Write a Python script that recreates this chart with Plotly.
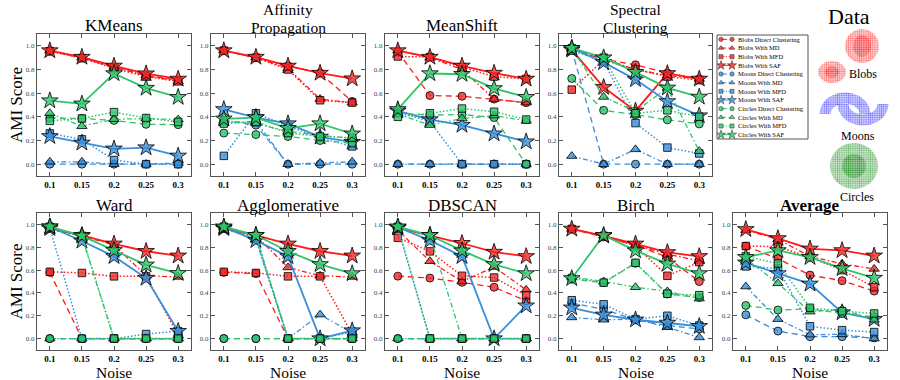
import numpy as np
import plotly.graph_objects as go

# ---------------- data ----------------
noise = [0.1, 0.15, 0.2, 0.25, 0.3]
noise_labels = ["0.1", "0.15", "0.2", "0.25", "0.3"]
datasets = ["Blobs", "Moons", "Circles"]
methods = ["Direct Clustering", "With MD", "With MFD", "With SAF"]
series_names = [f"{d} {m}" for d in datasets for m in methods]

# order in every table: Blobs DC, MD, MFD, SAF, Moons DC, MD, MFD, SAF, Circles DC, MD, MFD, SAF
kmeans = [
    [0.955, 0.90, 0.82, 0.75, 0.71], [0.96, 0.90, 0.82, 0.75, 0.70], [0.955, 0.895, 0.81, 0.74, 0.70], [0.96, 0.905, 0.83, 0.765, 0.72],
    [0.00, 0.00, 0.00, 0.00, 0.00], [0.02, 0.02, 0.00, 0.00, 0.01], [0.26, 0.21, 0.035, 0.00, 0.00], [0.235, 0.18, 0.13, 0.14, 0.07],
    [0.39, 0.386, 0.37, 0.337, 0.334], [0.43, 0.32, 0.38, 0.385, 0.377], [0.366, 0.386, 0.44, 0.39, 0.357], [0.537, 0.51, 0.766, 0.643, 0.566],
]
affinity = [
    [0.96, 0.90, 0.83, 0.77, 0.53], [0.96, 0.90, 0.81, 0.55, 0.52], [0.96, 0.90, 0.80, 0.54, 0.52], [0.96, 0.905, 0.83, 0.77, 0.723],
    [0.37, 0.33, 0.00, 0.00, 0.00], [0.35, 0.36, 0.00, 0.01, 0.02], [0.07, 0.43, 0.32, 0.223, 0.15], [0.463, 0.394, 0.343, 0.23, 0.186],
    [0.263, 0.25, 0.234, 0.20, 0.177], [0.366, 0.343, 0.277, 0.243, 0.22], [0.343, 0.357, 0.263, 0.234, 0.223], [0.383, 0.394, 0.303, 0.343, 0.257],
]
meanshift = [
    [0.95, 0.58, 0.574, 0.55, 0.52], [0.96, 0.90, 0.80, 0.55, 0.52], [0.91, 0.905, 0.82, 0.74, 0.72], [0.96, 0.905, 0.83, 0.77, 0.72],
    [0.00, 0.00, 0.00, 0.00, 0.00], [0.00, 0.00, 0.00, 0.00, 0.00], [0.44, 0.36, 0.00, 0.00, 0.00], [0.45, 0.377, 0.33, 0.257, 0.19],
    [0.43, 0.414, 0.42, 0.394, 0.00], [0.423, 0.33, 0.386, 0.41, 0.366], [0.40, 0.43, 0.47, 0.443, 0.377], [0.463, 0.766, 0.76, 0.64, 0.566],
]
spectral = [
    [0.97, 0.886, 0.84, 0.77, 0.72], [0.97, 0.89, 0.80, 0.75, 0.72], [0.63, 0.88, 0.80, 0.74, 0.71], [0.966, 0.65, 0.45, 0.767, 0.72],
    [0.97, 0.00, 0.00, 0.00, 0.00], [0.068, 0.00, 0.125, 0.00, 0.00], [0.96, 0.87, 0.347, 0.14, 0.09], [0.98, 0.86, 0.716, 0.53, 0.41],
    [0.724, 0.455, 0.418, 0.375, 0.34], [0.98, 0.568, 0.446, 0.645, 0.11], [0.98, 0.90, 0.43, 0.455, 0.40], [0.98, 0.90, 0.778, 0.645, 0.568],
]
ward = [
    [0.58, 0.00, 0.00, 0.00, 0.00], [0.95, 0.90, 0.82, 0.55, 0.54], [0.585, 0.575, 0.545, 0.545, 0.03], [0.965, 0.905, 0.83, 0.765, 0.725],
    [0.00, 0.00, 0.00, 0.00, 0.00], [0.00, 0.00, 0.00, 0.00, 0.00], [0.97, 0.00, 0.00, 0.04, 0.065], [0.98, 0.855, 0.72, 0.53, 0.065],
    [0.00, 0.00, 0.00, 0.00, 0.00], [0.98, 0.89, 0.00, 0.00, 0.00], [0.98, 0.90, 0.00, 0.00, 0.00], [0.98, 0.90, 0.773, 0.646, 0.572],
]
agglomerative = [
    [0.58, 0.57, 0.00, 0.00, 0.00], [0.95, 0.90, 0.623, 0.55, 0.54], [0.585, 0.575, 0.545, 0.545, 0.04], [0.965, 0.905, 0.83, 0.765, 0.725],
    [0.00, 0.00, 0.00, 0.00, 0.00], [0.97, 0.87, 0.00, 0.21, 0.05], [0.97, 0.87, 0.00, 0.00, 0.06], [0.975, 0.86, 0.72, 0.00, 0.07],
    [0.00, 0.00, 0.00, 0.00, 0.00], [0.98, 0.90, 0.00, 0.00, 0.00], [0.98, 0.90, 0.00, 0.00, 0.00], [0.98, 0.905, 0.765, 0.65, 0.57],
]
dbscan = [
    [0.547, 0.53, 0.493, 0.45, 0.33], [0.95, 0.678, 0.50, 0.627, 0.427], [0.883, 0.764, 0.55, 0.535, 0.38], [0.97, 0.905, 0.835, 0.758, 0.72],
    [0.00, 0.00, 0.00, 0.00, 0.00], [0.00, 0.00, 0.00, 0.00, 0.00], [0.97, 0.00, 0.00, 0.00, 0.00], [0.975, 0.86, 0.72, 0.00, 0.288],
    [0.00, 0.00, 0.00, 0.00, 0.00], [0.98, 0.90, 0.00, 0.00, 0.00], [0.98, 0.00, 0.00, 0.00, 0.00], [0.98, 0.905, 0.77, 0.65, 0.57],
]
birch = [
    [0.96, 0.89, 0.82, 0.712, 0.50], [0.96, 0.90, 0.82, 0.74, 0.68], [0.96, 0.90, 0.81, 0.55, 0.67], [0.96, 0.90, 0.83, 0.755, 0.72],
    [0.313, 0.256, 0.165, 0.114, 0.085], [0.185, 0.165, 0.17, 0.10, 0.01], [0.336, 0.30, 0.17, 0.20, 0.114], [0.27, 0.208, 0.165, 0.137, 0.108],
    [0.52, 0.49, 0.66, 0.39, 0.36], [0.54, 0.50, 0.45, 0.413, 0.35], [0.53, 0.49, 0.664, 0.393, 0.38], [0.527, 0.905, 0.77, 0.655, 0.57],
]
average = [
    [0.81, 0.70, 0.556, 0.507, 0.416], [0.95, 0.87, 0.72, 0.655, 0.61], [0.81, 0.806, 0.712, 0.60, 0.45], [0.957, 0.877, 0.786, 0.772, 0.725],
    [0.208, 0.066, 0.017, 0.017, 0.006], [0.456, 0.17, 0.034, 0.037, 0.00], [0.632, 0.615, 0.108, 0.074, 0.057], [0.664, 0.57, 0.479, 0.228, 0.17],
    [0.29, 0.25, 0.26, 0.22, 0.19], [0.70, 0.484, 0.236, 0.256, 0.165], [0.72, 0.658, 0.27, 0.24, 0.22], [0.712, 0.772, 0.712, 0.615, 0.53],
]

algo_titles = [["KMeans"], ["Affinity", "Propagation"], ["MeanShift"], ["Spectral", "Clustering"],
               ["Ward"], ["Agglomerative"], ["DBSCAN"], ["Birch"], ["<b>Average</b>"]]
algo_tables = [kmeans, affinity, meanshift, spectral, ward, agglomerative, dbscan, birch, average]

y_tick_vals = [0.0, 0.2, 0.4, 0.6, 0.8, 1.0]

# ---------------- styles ----------------
W, H = 900, 380
FONT = "Liberation Serif"
line_colors = ["#ff1a1a", "#3a8edb", "#2fc46a"]
fill_colors = ["rgba(240,40,40,0.8)", "rgba(58,142,219,0.8)", "rgba(47,196,106,0.8)"]
dashes = ["6px,4px", "5px,2.5px,1.5px,2.5px", "1.5px,2px", "solid"]
symbols = ["circle", "triangle-up", "square", "star"]
msizes = [8, 9, 7.5, 12.5]
lwidths = [1.3, 1.3, 1.5, 1.8]

cols_px = [(37, 191), (211, 365), (385, 539), (559, 712), (733, 887)]
rows_px = [(34, 176), (213, 350)]
slots = [(0, 0), (0, 1), (0, 2), (0, 3), (1, 0), (1, 1), (1, 2), (1, 3), (1, 4)]


def px_x(x):
    return x / W


def px_y(y):
    return 1 - y / H


fig = go.Figure()
layout = dict(width=W, height=H, margin=dict(l=0, r=0, t=0, b=0),
              plot_bgcolor="white", paper_bgcolor="white", showlegend=False,
              font=dict(family=FONT, color="black"))
annotations = []
shapes = []


def text_at(txt, x, y, size, **kw):
    d = dict(text=txt, x=px_x(x), y=px_y(y), xref="paper", yref="paper", showarrow=False,
             xanchor="center", yanchor="middle", font=dict(family=FONT, size=size, color="black"))
    d.update(kw)
    annotations.append(d)


for k, (table, title) in enumerate(zip(algo_tables, algo_titles)):
    r, c = slots[k]
    n = k + 1
    xs = "" if n == 1 else str(n)
    x0, x1 = cols_px[c]
    y0, y1 = rows_px[r]
    for si, vals in enumerate(table):
        d, m = divmod(si, 4)
        fig.add_trace(go.Scatter(
            x=noise, y=vals, mode="lines+markers", name=series_names[si],
            xaxis="x" + xs, yaxis="y" + xs,
            line=dict(color=line_colors[d], width=lwidths[m], dash=dashes[m]),
            marker=dict(symbol=symbols[m], size=msizes[m], color=fill_colors[d],
                        line=dict(color="black", width=0.8)),
        ))
    layout["xaxis" + xs] = dict(
        domain=[px_x(x0), px_x(x1)], anchor="y" + xs, range=[0.08, 0.32],
        tickvals=noise, ticktext=noise_labels, showgrid=False, zeroline=False,
        showline=True, linecolor="#555", linewidth=1, mirror="ticks",
        ticks="inside", ticklen=4, tickcolor="#555",
        tickfont=dict(family=FONT, size=9, color="black", weight="bold"))
    layout["yaxis" + xs] = dict(
        domain=[px_y(y1), px_y(y0)], anchor="x" + xs, range=[-0.1, 1.1],
        tickvals=y_tick_vals, tickformat=".1f", showgrid=False, zeroline=False,
        showline=True, linecolor="#555", linewidth=1, mirror="ticks",
        ticks="inside", ticklen=4, tickcolor="#555",
        tickfont=dict(family=FONT, size=7, color="#444"))
    # titles
    xc = (x0 + x1) / 2
    if len(title) == 1:
        text_at(title[0], xc, y0 - 8, 17)
    else:
        text_at(title[0], xc, y0 - 24.5, 15.5)
        text_at(title[1], xc, y0 - 6.5, 15.5)
    if r == 1:
        text_at("Noise", xc, 383, 15.5, yanchor="bottom")

for (y0, y1) in rows_px:
    text_at("AMI Score", 16, (y0 + y1) / 2, 17, textangle=-90)

# ---------------- legend (drawn manually for compact size) ----------------
lg_x0, lg_x1, lg_y0, lg_y1 = 717, 808, 35, 139
layout["xaxis11"] = dict(domain=[px_x(lg_x0), px_x(lg_x1)], anchor="y11", range=[0, lg_x1 - lg_x0], visible=False)
layout["yaxis11"] = dict(domain=[px_y(lg_y1), px_y(lg_y0)], anchor="x11", range=[len(series_names), 0], visible=False)
for si, nm in enumerate(series_names):
    d, m = divmod(si, 4)
    fig.add_trace(go.Scatter(
        x=[4, 15], y=[si + 0.5, si + 0.5], mode="lines+markers", xaxis="x11", yaxis="y11",
        line=dict(color=line_colors[d], width=1, dash=dashes[m] if m != 2 else "1px,1.5px"),
        marker=dict(symbol=symbols[m], size=msizes[m] * 0.55, color=fill_colors[d],
                    line=dict(color="black", width=0.4)),
        hoverinfo="skip"))
    annotations.append(dict(text=nm, x=19, y=si + 0.5, xref="x11", yref="y11", showarrow=False,
                            xanchor="left", yanchor="middle",
                            font=dict(family=FONT, size=6.5, color="black")))
shapes.append(dict(type="rect", xref="paper", yref="paper", x0=px_x(lg_x0), x1=px_x(lg_x1),
                   y0=px_y(lg_y1), y1=px_y(lg_y0), line=dict(color="#555", width=1), fillcolor="rgba(0,0,0,0)"))

# ---------------- data illustration panel ----------------
layout["xaxis12"] = dict(domain=[px_x(810), 1], anchor="y12", range=[810, 900], visible=False)
layout["yaxis12"] = dict(domain=[px_y(210), 1], anchor="x12", range=[210, 0], visible=False)


def ellipse(cx, cy, rx, ry):
    t = np.linspace(0, 2 * np.pi, 60)
    return list(cx + rx * np.cos(t)), list(cy + ry * np.sin(t))


def band(cx, cy, rx, ry, w, t0, t1):
    t = np.linspace(t0, t1, 40)
    ox = cx + (rx + w) * np.cos(t)
    oy = cy - (ry + w) * np.sin(t)
    ix = (cx + (rx - w) * np.cos(t))[::-1]
    iy = (cy - (ry - w) * np.sin(t))[::-1]
    return list(np.concatenate([ox, ix, ox[:1]])), list(np.concatenate([oy, iy, oy[:1]]))


def cloud(xy, color, tint, size=2.2, solidity=0.45):
    fig.add_trace(go.Scatter(
        x=xy[0], y=xy[1], mode="lines", fill="toself", xaxis="x12", yaxis="y12",
        line=dict(width=0, color="rgba(0,0,0,0)"), fillcolor=tint,
        fillpattern=dict(shape=".", fgcolor=color, bgcolor=tint,
                         size=size, solidity=solidity),
        hoverinfo="skip"))


RED_T, BLUE_T, GREEN_T = "rgba(255,90,90,0.18)", "rgba(90,90,255,0.18)", "rgba(40,140,40,0.16)"
cloud(ellipse(862, 46, 17, 17), "#ff0000", RED_T)
cloud(ellipse(862, 46, 9, 11), "#ff0000", RED_T)
cloud(ellipse(832, 72, 14, 11), "#ff0000", RED_T)
cloud(ellipse(832, 72, 7, 6), "#ff0000", RED_T)
cloud(band(845, 114, 20, 16, 5.5, 0, np.pi), "#0000ff", BLUE_T)
cloud(band(863, 104, 20, 16, 5.5, np.pi, 2 * np.pi), "#0000ff", BLUE_T)
cloud(ellipse(854, 166, 24, 23), "#008000", GREEN_T)
cloud(ellipse(854, 166, 12, 12), "#008000", GREEN_T)

annotations.append(dict(text="Data", x=849, y=16, xref="x12", yref="y12", showarrow=False,
                        xanchor="center", yanchor="middle", font=dict(family=FONT, size=22, color="black")))
for lbl, lx, ly in [("Blobs", 863, 74), ("Moons", 858, 136), ("Circles", 857, 197)]:
    annotations.append(dict(text=lbl, x=lx, y=ly, xref="x12", yref="y12", showarrow=False,
                            xanchor="center", yanchor="middle", font=dict(family=FONT, size=12, color="black")))

layout["annotations"] = annotations
layout["shapes"] = shapes
fig.update_layout(**layout)
fig.write_html("out.html", config={"displayModeBar": False},
               post_script="document.body.style.margin='0px';document.body.style.overflow='hidden';")
